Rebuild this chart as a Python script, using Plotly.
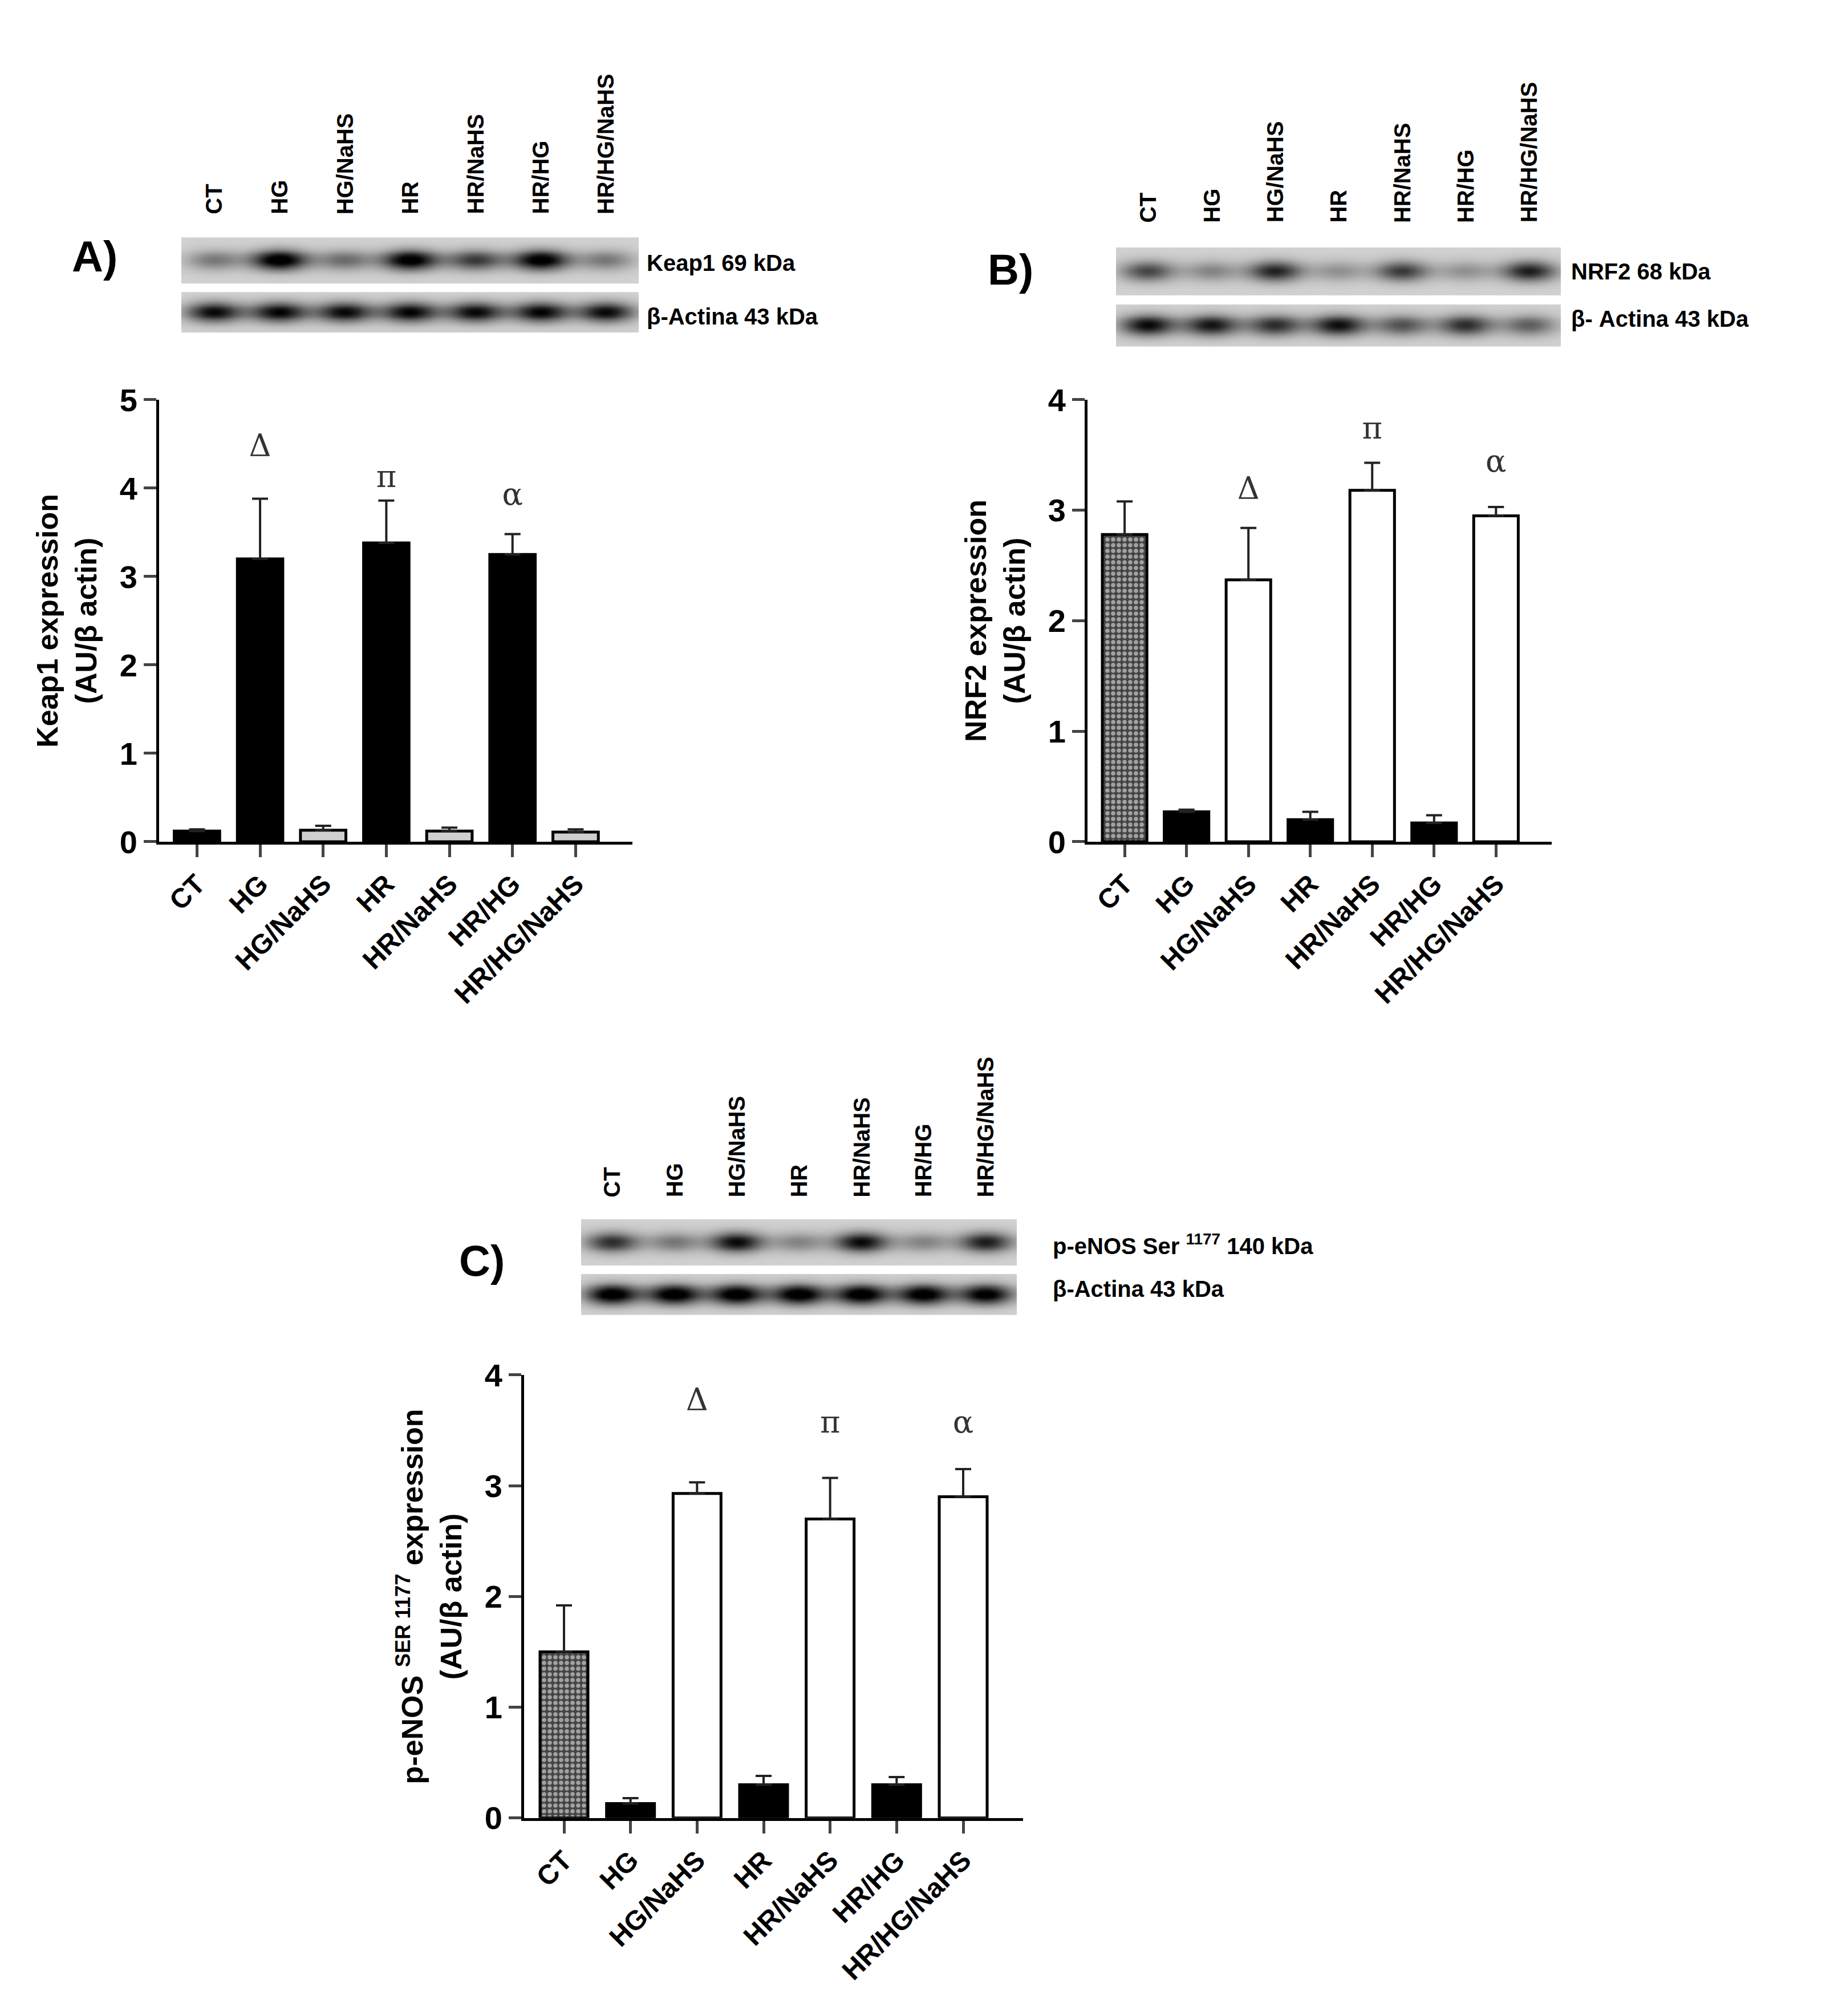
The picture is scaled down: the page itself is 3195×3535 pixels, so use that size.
import numpy as np
import plotly.graph_objects as go

groups = ["CT", "HG", "HG/NaHS", "HR", "HR/NaHS", "HR/HG", "HR/HG/NaHS"]

keap1_mean = [0.12, 3.20, 0.13, 3.38, 0.12, 3.25, 0.11]
keap1_err = [0.02, 0.68, 0.05, 0.48, 0.04, 0.23, 0.03]
nrf2_mean = [2.78, 0.27, 2.37, 0.20, 3.18, 0.17, 2.95]
nrf2_err = [0.30, 0.02, 0.47, 0.07, 0.25, 0.07, 0.08]
enos_mean = [1.50, 0.13, 2.93, 0.30, 2.70, 0.30, 2.90]
enos_err = [0.42, 0.05, 0.10, 0.08, 0.37, 0.07, 0.25]

keap1_colors = ["black", "black", "#cfcfcf", "black", "#cfcfcf", "black", "#cfcfcf"]
nrf2_colors = ["#444444", "black", "white", "black", "white", "black", "white"]
enos_colors = ["#444444", "black", "white", "black", "white", "black", "white"]

sig_symbols = ["Δ", "π", "α"]
keap1_sig = [(1, 4.45), (3, 4.1), (5, 3.9)]
nrf2_sig = [(2, 3.17), (4, 3.72), (6, 3.42)]
enos_sig = [(2, 3.75), (4, 3.55), (6, 3.55)]

# Western blot band intensities (0 = none, 1 = darkest)
keap1_band = [0.35, 0.95, 0.40, 0.92, 0.60, 0.92, 0.35]
keap1_actin = [0.80, 0.82, 0.80, 0.82, 0.80, 0.82, 0.80]
nrf2_band = [0.55, 0.30, 0.70, 0.25, 0.60, 0.25, 0.72]
nrf2_actin = [0.80, 0.75, 0.65, 0.78, 0.50, 0.65, 0.45]
enos_band = [0.65, 0.35, 0.80, 0.30, 0.80, 0.30, 0.72]
enos_actin = [0.95, 0.95, 0.95, 0.95, 0.95, 0.93, 0.90]

W, H = 3195, 3535
FONT = "Liberation Sans"
fig = go.Figure()

def px(x): return x / W
def py(y): return 1 - y / H

def blot_image(band, actin):
    cols = np.linspace(-0.5, 6.5, 140)
    rows = 44
    z = np.full((rows, cols.size), np.nan)
    for r in range(rows):
        if 19 <= r <= 22:
            continue
        if r < 19:
            vals, cy = actin, 9.0
        else:
            vals, cy = band, 33.0
        row = np.full(cols.size, 0.18)
        for i, v in enumerate(vals):
            row += v * np.exp(-((cols - i) ** 2) / (2 * 0.3 ** 2)) * np.exp(-((r - cy) ** 2) / (2 * 3.2 ** 2))
        z[r] = np.clip(row, 0, 1)
    return cols, z

panels = [
    dict(mean=keap1_mean, err=keap1_err, colors=keap1_colors, sig=keap1_sig, ymax=5,
         xd=(271, 1101), yd=(674, 1463), title="<b>Keap1 expression<br>(AU/β actin)</b>",
         blot=(keap1_band, keap1_actin), bx=(310, 1112), by=(384, 554), lab_bottom=345,
         lab1=("Keap1 69 kDa", 1124, 430), lab2=("β-Actina 43 kDa", 1124, 525),
         letter=("A)", 158, 418), cta=False),
    dict(mean=nrf2_mean, err=nrf2_err, colors=nrf2_colors, sig=nrf2_sig, ymax=4,
         xd=(1899, 2713), yd=(674, 1463), title="<b>NRF2 expression<br>(AU/β actin)</b>",
         blot=(nrf2_band, nrf2_actin), bx=(1949, 2729), by=(402, 579), lab_bottom=360,
         lab1=("NRF2 68 kDa", 2745, 445), lab2=("β- Actina 43 kDa", 2745, 529),
         letter=("B)", 1764, 441), cta=True),
    dict(mean=enos_mean, err=enos_err, colors=enos_colors, sig=enos_sig, ymax=4,
         xd=(911, 1786), yd=(2415, 3206),
         title="<b>p-eNOS <sup>SER 1177</sup> expression<br>(AU/β actin)</b>",
         blot=(enos_band, enos_actin), bx=(1011, 1775), by=(2137, 2308), lab_bottom=2100,
         lab1=("<b>p-eNOS Ser <sup>1177</sup> 140 kDa</b>", 1836, 2182), lab2=("β-Actina 43 kDa", 1836, 2261),
         letter=("C)", 837, 2211), cta=True),
]

annotations = []
layout_axes = {}
for k, p in enumerate(panels):
    xa = f"x{2*k+1}" if k else "x"
    ya = f"y{2*k+1}" if k else "y"
    xb, yb = f"x{2*k+2}", f"y{2*k+2}"
    xname = "xaxis" + (str(2*k+1) if k else "")
    yname = "yaxis" + (str(2*k+1) if k else "")
    patterns = [("." if (p["cta"] and i == 0) else "") for i in range(7)]
    fig.add_trace(go.Bar(
        x=list(range(7)), y=p["mean"], xaxis=xa, yaxis=ya, width=0.72,
        marker=dict(color=p["colors"], line=dict(color="black", width=5),
                    pattern=dict(shape=patterns, fgcolor="black", bgcolor="#666666", size=10, solidity=0.45)),
        error_y=dict(type="data", array=p["err"], arrayminus=[0]*7, symmetric=False,
                     color="#222222", thickness=4, width=14),
        showlegend=False))
    fig.add_trace(go.Scatter(
        x=[s[0] for s in p["sig"]], y=[s[1] for s in p["sig"]], text=sig_symbols,
        mode="text", textfont=dict(family="DejaVu Serif", size=54, color="#333333"),
        xaxis=xa, yaxis=ya, showlegend=False))
    yt = list(range(p["ymax"] + 1))
    layout_axes[xname] = dict(domain=[px(p["xd"][0]), px(p["xd"][1])], range=[-0.6, 6.9],
                              tickvals=list(range(7)), ticktext=[f"<b>{g}</b>" for g in groups],
                              tickangle=-45, ticks="outside", ticklen=22, tickwidth=5,
                              showline=True, linewidth=5, linecolor="black", showgrid=False,
                              zeroline=False, tickfont=dict(family=FONT, size=48, color="black"),
                              anchor=ya)
    layout_axes[yname] = dict(domain=[py(p["yd"][1]), py(p["yd"][0])], range=[0, p["ymax"]],
                              tickvals=yt, ticktext=[f"<b>{v}</b>" for v in yt],
                              ticks="outside", ticklen=22, tickwidth=5,
                              showline=True, linewidth=5, linecolor="black", showgrid=False,
                              zeroline=False, tickfont=dict(family=FONT, size=56, color="black"),
                              title=dict(text=p["title"], font=dict(family=FONT, size=52, color="black"), standoff=25),
                              anchor=xa)
    cols, z = blot_image(*p["blot"])
    fig.add_trace(go.Heatmap(x=cols, y=list(range(z.shape[0])), z=z, zmin=0, zmax=1, zsmooth="best",
                             colorscale=[[0, "white"], [1, "black"]], showscale=False,
                             hoverinfo="skip", xaxis=xb, yaxis=yb))
    layout_axes["xaxis" + str(2*k+2)] = dict(domain=[px(p["bx"][0]), px(p["bx"][1])], range=[-0.5, 6.5],
                                            visible=False, anchor=yb)
    layout_axes["yaxis" + str(2*k+2)] = dict(domain=[py(p["by"][1]), py(p["by"][0])], range=[-0.5, 43.5],
                                            visible=False, anchor=xb)
    lane_w = (p["bx"][1] - p["bx"][0]) / 7
    for i, g in enumerate(groups):
        annotations.append(dict(x=px(p["bx"][0] + lane_w * (i + 0.5)), y=py(p["lab_bottom"]),
                                xref="paper", yref="paper", text=f"<b>{g}</b>", textangle=-90,
                                xanchor="center", yanchor="bottom", showarrow=False,
                                font=dict(family=FONT, size=40, color="black")))
    for t, x, y in (p["lab1"], p["lab2"]):
        annotations.append(dict(x=px(x), y=py(y), xref="paper", yref="paper",
                                text=t if t.startswith("<b>") else f"<b>{t}</b>",
                                xanchor="left", yanchor="middle", showarrow=False,
                                font=dict(family=FONT, size=40, color="black")))
    t, x, y = p["letter"]
    annotations.append(dict(x=px(x), y=py(y), xref="paper", yref="paper", text=f"<b>{t}</b>",
                            xanchor="center", yanchor="middle", showarrow=False,
                            font=dict(family=FONT, size=76, color="black")))

fig.update_layout(width=W, height=H, margin=dict(l=0, r=0, t=0, b=0),
                  plot_bgcolor="white", paper_bgcolor="white", bargap=0.28,
                  annotations=annotations, **layout_axes)
fig.write_html("out.html")
